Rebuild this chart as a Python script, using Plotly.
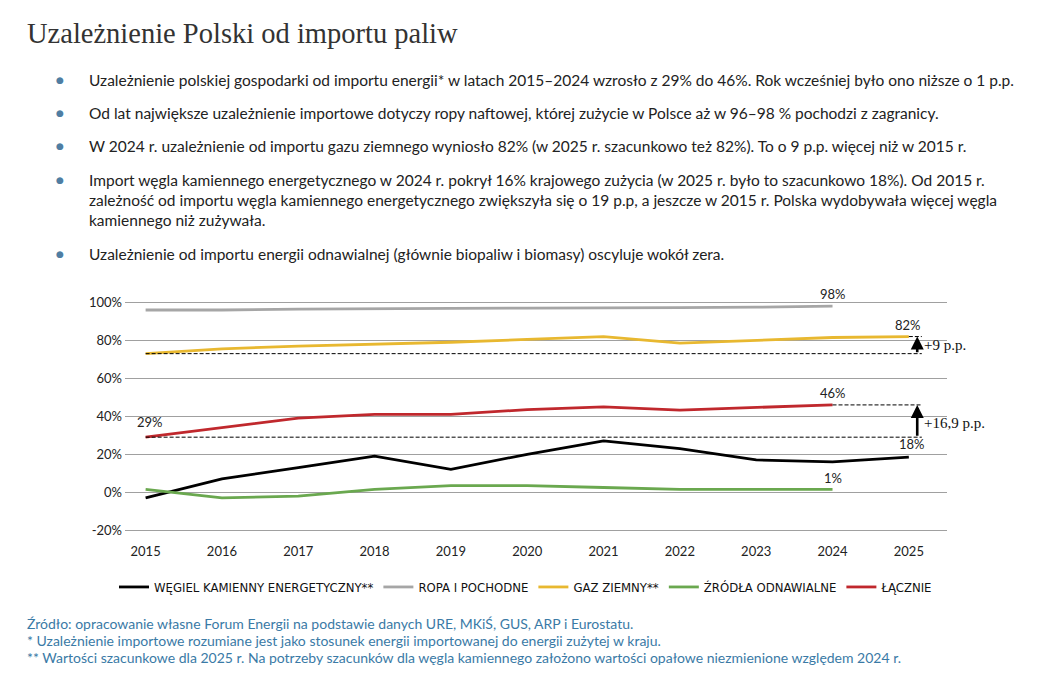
import plotly.graph_objects as go

years = [2015, 2016, 2017, 2018, 2019, 2020, 2021, 2022, 2023, 2024, 2025]
wegiel = [-3, 7, 13, 19, 12, 20, 27, 23, 17, 16, 18.5]
ropa = [96, 96, 96.5, 96.5, 96.8, 97, 97, 97.2, 97.5, 98]
gaz = [73, 75.5, 77, 78, 79, 80.5, 82, 78.5, 80, 81.5, 82]
oze = [1.5, -3, -2, 1.5, 3.5, 3.5, 2.5, 1.5, 1.5, 1.5]
lacznie = [29, 34, 39, 41, 41, 43.5, 45, 43.3, 44.7, 46]

series = [
    ("WĘGIEL KAMIENNY ENERGETYCZNY**", wegiel, "#000000"),
    ("ROPA I POCHODNE", ropa, "#a6a6a6"),
    ("GAZ ZIEMNY**", gaz, "#e8b830"),
    ("ŹRÓDŁA ODNAWIALNE", oze, "#6aa84f"),
    ("ŁĄCZNIE", lacznie, "#c0282d"),
]

title = "Uzależnienie Polski od importu paliw"
bullets = [
    "Uzależnienie polskiej gospodarki od importu energii* w latach 2015–2024 wzrosło z 29% do 46%. Rok wcześniej było ono niższe o 1 p.p.",
    "Od lat największe uzależnienie importowe dotyczy ropy naftowej, której zużycie w Polsce aż w 96–98 % pochodzi z zagranicy.",
    "W 2024 r. uzależnienie od importu gazu ziemnego wyniosło 82% (w 2025 r. szacunkowo też 82%). To o 9 p.p. więcej niż w 2015 r.",
    "Import węgla kamiennego energetycznego w 2024 r. pokrył 16% krajowego zużycia (w 2025 r. było to szacunkowo 18%). Od 2015 r.<br>"
    "zależność od importu węgla kamiennego energetycznego zwiększyła się o 19 p.p, a jeszcze w 2015 r. Polska wydobywała więcej węgla<br>"
    "kamiennego niż zużywała.",
    "Uzależnienie od importu energii odnawialnej (głównie biopaliw i biomasy) oscyluje wokół zera.",
]
footer = [
    "Źródło: opracowanie własne Forum Energii na podstawie danych URE, MKiŚ, GUS, ARP i Eurostatu.",
    "* Uzależnienie importowe rozumiane jest jako stosunek energii importowanej do energii zużytej w kraju.",
    "** Wartości szacunkowe dla 2025 r. Na potrzeby szacunków dla węgla kamiennego założono wartości opałowe niezmienione względem 2024 r.",
]

# page body has an 8px margin, so the figure is a bit smaller and offset
OFF = 8
W, H = 1050 - OFF, 680 - OFF
L, R, T, B = 117, 103, 283, 146
pw, ph = W - L - R, H - T - B


def px(xp):
    return (xp - OFF - L) / pw


def py(yp):
    return (H - B - (yp - OFF)) / ph


fig = go.Figure()
for name, vals, col in series:
    fig.add_trace(go.Scatter(x=years[:len(vals)], y=vals, name=name, mode="lines",
                             line=dict(color=col, width=2.8)))

xend = 2025.17
xarr = 2025.11
dash = dict(color="#000000", width=1, dash="4px,2px")
fig.add_shape(type="line", x0=years[0], x1=xend, y0=gaz[0], y1=gaz[0], line=dash)
fig.add_shape(type="line", x0=years[-1], x1=xend, y0=gaz[-1], y1=gaz[-1], line=dash)
fig.add_shape(type="line", x0=years[0], x1=xend, y0=lacznie[0], y1=lacznie[0], line=dash)
fig.add_shape(type="line", x0=years[9], x1=xend, y0=lacznie[-1], y1=lacznie[-1], line=dash)

for lo, hi in [(gaz[0], gaz[-1]), (lacznie[0], lacznie[-1])]:
    fig.add_annotation(x=xarr, y=hi, ax=xarr, ay=lo, axref="x", ayref="y", text="",
                       showarrow=True, arrowhead=2, arrowsize=1, arrowwidth=2.6,
                       arrowcolor="#000000")

serif = "Liberation Serif, DejaVu Serif, serif"
fig.add_annotation(x=xarr, y=(gaz[0] + gaz[-1]) / 2, text="+9 p.p.", showarrow=False,
                   xanchor="left", xshift=5, font=dict(family=serif, size=15, color="#111"))
fig.add_annotation(x=xarr, y=(lacznie[0] + lacznie[-1]) / 2 - 1, text="+16,9 p.p.", showarrow=False,
                   xanchor="left", xshift=5, font=dict(family=serif, size=15, color="#111"))

lab = dict(family="Lato, sans-serif", size=13, color="#222")
value_labels = [
    (2024, ropa[-1], "98%", 0, 12),
    (2025, gaz[-1], "82%", -1, 12),
    (2024, lacznie[-1], "46%", 0, 12),
    (2015, lacznie[0], "29%", 4, 15),
    (2025, wegiel[-1], "18%", 3, 13),
    (2024, oze[-1], "1%", 0, 11),
]
for x, y, t, xs, ys in value_labels:
    fig.add_annotation(x=x, y=y, text=t, showarrow=False, xshift=xs, yshift=ys, font=lab)

# title, bullets, footer
fig.add_annotation(xref="paper", yref="paper", x=px(25), y=py(33), text=title, showarrow=False,
                   xanchor="left", yanchor="middle",
                   font=dict(family=serif, size=28.5, color="#333"))

rows = [80, 113, 146, 180, 254]
for yb, txt in zip(rows, bullets):
    fig.add_annotation(xref="paper", yref="paper", x=px(60), y=py(yb), text="●",
                       showarrow=False, xanchor="center", yanchor="middle",
                       font=dict(family="DejaVu Sans", size=9, color="#4f7ea3"))
    fig.add_annotation(xref="paper", yref="paper", x=px(87), y=py(yb - 11),
                       text=txt, showarrow=False, xanchor="left", yanchor="top", align="left",
                       font=dict(family="Lato, sans-serif", size=15.5, color="#222"))

for i, txt in enumerate(footer):
    fig.add_annotation(xref="paper", yref="paper", x=px(25), y=py(623 + 17 * i), text=txt,
                       showarrow=False, xanchor="left", yanchor="middle",
                       font=dict(family="Lato, sans-serif", size=14, color="#3a7aa6"))

fig.update_layout(
    width=W, height=H,
    margin=dict(l=L, r=R, t=T, b=B),
    paper_bgcolor="white", plot_bgcolor="white",
    showlegend=True,
    legend=dict(orientation="h", x=px(526), xanchor="center", y=py(587), yanchor="middle",
                font=dict(family="DejaVu Sans Condensed, Liberation Sans Narrow, sans-serif",
                          size=13, color="#111"),
                itemwidth=30, tracegroupgap=0),
    font=dict(family="Lato, sans-serif", color="#222"),
)
fig.update_xaxes(range=[2014.73, 2025.5], tickvals=years, ticktext=[str(y) for y in years],
                 showgrid=False, zeroline=False, showline=False, ticks="",
                 tickfont=dict(family="Lato, sans-serif", size=13, color="#222"),
                 ticklabelstandoff=8)
fig.update_yaxes(range=[-22, 106], tickvals=[-20, 0, 20, 40, 60, 80, 100],
                 ticktext=["-20%", "0%", "20%", "40%", "60%", "80%", "100%"],
                 showgrid=True, gridcolor="#a0a0a0", gridwidth=1, zeroline=False,
                 showline=False, ticks="", ticklabelstandoff=2,
                 tickfont=dict(family="Lato, sans-serif", size=13, color="#222"))

fig.write_html("out.html")
